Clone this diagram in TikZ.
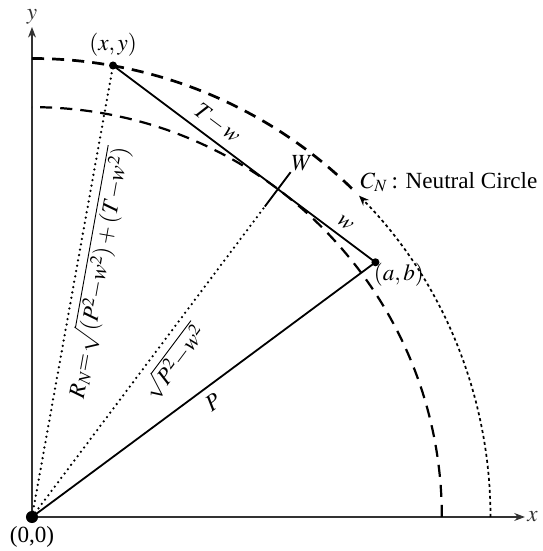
\documentclass[tikz,border=0pt]{standalone}
\usepackage{mathptmx}
\usepackage{fontspec}
\setmainfont{Liberation Serif}
\usetikzlibrary{
  calc, % For coordinate calculations
  arrows.meta % For arrow tips
}

\begin{document}
\begin{tikzpicture}[
      >=Stealth, % Default arrow tip
      font=\fontsize{11.5}{13}\selectfont,
      axis/.style={->, line width=0.5pt, black!80}, % Style for the axes
      bar/.style={line width=0.9pt}, % Style for solid lines
      bigdash/.style={line width=1.35pt, dash pattern=on 6pt off 4pt},
      smalldash/.style={line width=1.1pt, dash pattern=on 6pt off 4pt},
      dotline/.style={line width=1.25pt, line cap=round, dash pattern=on 0pt off 2.7pt},
      finedot/.style={line width=0.85pt, dash pattern=on 1.5pt off 1.5pt},
      dot/.style={circle, fill, inner sep=0pt, minimum size=#1},
    ]

    % Radien
    \def\rin{7.16}
    \def\rn{8.01}
    \def\tw{3.60}
    \def\w{2.13}

    \useasboundingbox (-0.559,-0.594) rectangle (8.927,9.032);

    % Koordinaten von Punkte
    \coordinate (O) at (0,0);
    \coordinate (W) at (53.13:\rin);
    \coordinate (AB) at ($(W)+(-36.87:\w)$);
    \coordinate (XY) at ($(W)+(143.13:\tw)$);
    \coordinate (Wlow) at (53.13:6.78);
    \coordinate (Whigh) at (53.13:7.53);
    \coordinate (Xend) at (8.61,0);
    \coordinate (Yend) at (0,8.56);

    % Achsen
    \draw[axis] (O) -- (Xend) node[right, inner sep=1pt] (xlab) {$x$};
    \draw[axis] (O) -- (Yend) node[above, inner sep=1pt] (ylab) {$y$};

    % Kreise
    \draw[smalldash] (\rin,0) arc[start angle=0, end angle=90, radius=\rin];
    \draw[bigdash] (0,\rn) arc[start angle=90, end angle=45.5, radius=\rn];
    \draw[finedot, -{Stealth[length=5pt, width=4pt]}] (\rn,0)
      arc[start angle=0, end angle=44.5, radius=\rn];
    \node (cn) at (7.285,5.852) {$C_N$\,: Neutral Circle};

    % Strecken
    \draw[bar] (XY) -- node[pos=0.36, above, sloped] (twlab) {$T{-}\,w$}
      node[pos=0.854, above, sloped] (wlab) {$w$} (AB);
    \draw[bar] (O) -- node[pos=0.5, below, sloped] (plab) {$P$} (AB);
    \draw[dotline] (O) -- node[pos=0.54, below, sloped] (slab) {$\sqrt{P^2{-}w^2}$} (Wlow);
    \draw[dotline] (O) -- node[pos=0.55, below, sloped] (rlab)
      {$R_N{=}\sqrt{(P^2{-}w^2)+(T{-}w^2)}$} (XY);
    \draw[bar] (Wlow) -- (Whigh) node[above right, inner sep=0pt] (wbig) {$W$};

    % Punkte
    \node[dot=6pt] (o) at (O) {};
    \node[dot=4pt] (xy) at (XY) {};
    \node[dot=4pt] (ab) at (AB) {};
    \node[below=1pt] (olab) at (O) {(0,0)};
    \node[above=1pt] (xylab) at (XY) {$(x,y)$};
    \node[below right, inner sep=0pt, xshift=-1pt] (ablab) at (AB) {$(a,b)$};

  \end{tikzpicture}
\end{document}
